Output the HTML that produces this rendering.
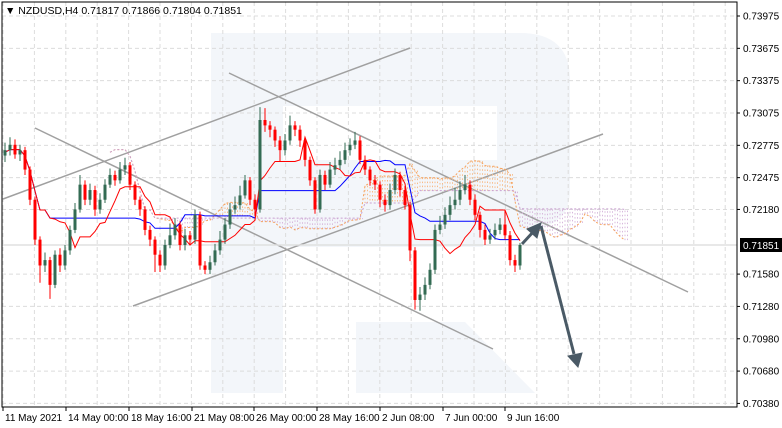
<!DOCTYPE html>
<html><head><meta charset="utf-8"><style>
body{margin:0;background:#fff;}
svg{display:block;font-family:"Liberation Sans",sans-serif;}
</style></head><body>
<svg id="chart" width="782" height="428" viewBox="0 0 782 428" xmlns="http://www.w3.org/2000/svg">
<rect x="0" y="0" width="782" height="428" fill="#fff"/>
<g id="watermark" fill="#f3f6fa">
<rect x="211" y="33" width="72" height="360"/>
<path d="M283 33 H520 Q570 33 570 80 V190 Q570 230 520 230 H283 V160 H497 V106 H283 Z"/>
<rect x="283" y="200" width="200" height="47"/>
<path d="M356 322 H465 L535 393 H356 Z"/>
</g>
<g id="grid"></g>
<g id="lines">
<line x1="3" y1="199" x2="410" y2="48" stroke="#a0a0a0" stroke-width="1.5"/>
<line x1="133" y1="306" x2="603" y2="134" stroke="#a0a0a0" stroke-width="1.5"/>
<line x1="35" y1="128" x2="493" y2="349" stroke="#a0a0a0" stroke-width="1.5"/>
<line x1="229" y1="73" x2="688" y2="292" stroke="#a0a0a0" stroke-width="1.5"/>
</g>
<line x1="2" y1="245" x2="737" y2="245" stroke="#e0e0e0" stroke-width="1.5"/>
<g id="cloud"></g>
<g id="ind"></g>
<g id="candles"></g>
<g stroke="#4a5a66" fill="#4a5a66" stroke-width="3">
<line x1="522" y1="244" x2="534" y2="231"/>
<polygon points="541,223 537,238 527,229" stroke-width="1"/>
<line x1="541" y1="226" x2="574" y2="354"/>
<polygon points="578,367 568,356 582,353" stroke-width="1"/>
</g>
<rect x="2" y="2" width="735" height="405" fill="none" stroke="#000" stroke-width="1"/>
<g id="yaxis" font-size="10" fill="#000"></g>
<g id="xaxis" font-size="10" fill="#000"></g>
<rect x="740" y="238" width="42" height="14" fill="#000"/>
<text x="743" y="249" font-size="10" fill="#fff">0.71851</text>
<text x="5" y="14" font-size="10.5" fill="#000">▼ NZDUSD,H4  0.71817 0.71866 0.71804 0.71851</text>
</svg>
<script>
const yTicks=[0.73975,0.73675,0.73375,0.73075,0.72775,0.72475,0.72180,0.71580,0.71280,0.70980,0.70680,0.70380];
const yTickLabels=["0.73975","0.73675","0.73375","0.73075","0.72775","0.72475","0.72180","0.71580","0.71280","0.70980","0.70680","0.70380"];
const xLabels=["11 May 2021","14 May 00:00","18 May 16:00","21 May 08:00","26 May 00:00","28 May 16:00","2 Jun 08:00","7 Jun 00:00","9 Jun 16:00"];
const xLabelBars=[0,12.6,25.2,37.8,50.2,62.8,75.4,88,100.4];
const firstOpen=0.7268;
const closes=[0.7273,0.7278,0.7269,0.7273,0.7255,0.7227,0.7190,0.7166,0.7171,0.7148,0.7176,0.7166,0.7180,0.7199,0.7218,0.7241,0.7227,0.7236,0.7218,0.7227,0.7241,0.7250,0.7245,0.7255,0.7259,0.7241,0.7227,0.7218,0.7199,0.7190,0.7176,0.7166,0.7185,0.7194,0.7204,0.7185,0.7194,0.7190,0.7213,0.7166,0.7162,0.7169,0.7180,0.7190,0.7204,0.7218,0.7222,0.7231,0.7245,0.7227,0.7218,0.7301,0.7296,0.7292,0.7282,0.7273,0.7282,0.7296,0.7292,0.7282,0.7264,0.7245,0.7218,0.7250,0.7241,0.7255,0.7259,0.7264,0.7273,0.7278,0.7282,0.7264,0.7255,0.7245,0.7241,0.7227,0.7222,0.7236,0.7250,0.7236,0.7222,0.7180,0.7134,0.7139,0.7148,0.7162,0.7199,0.7204,0.7213,0.7222,0.7227,0.7236,0.7241,0.7227,0.7213,0.7199,0.7190,0.7194,0.7199,0.7204,0.7194,0.7171,0.7166,0.7185];
const highs=[0.7280,0.7285,0.7283,0.7278,0.7276,0.7258,0.7230,0.7193,0.7178,0.7174,0.7180,0.7182,0.7185,0.7203,0.7224,0.7250,0.7245,0.7242,0.7240,0.7233,0.7246,0.7256,0.7254,0.7262,0.7266,0.7262,0.7244,0.7230,0.7221,0.7203,0.7193,0.7180,0.7190,0.7205,0.7210,0.7207,0.7200,0.7198,0.7218,0.7216,0.7170,0.7175,0.7186,0.7198,0.7210,0.7224,0.7230,0.7240,0.7250,0.7248,0.7232,0.7313,0.7312,0.7300,0.7295,0.7286,0.7288,0.7305,0.7300,0.7296,0.7285,0.7267,0.7248,0.7255,0.7254,0.7262,0.7266,0.7272,0.7280,0.7284,0.7290,0.7286,0.7268,0.7258,0.7250,0.7244,0.7232,0.7242,0.7256,0.7253,0.7240,0.7225,0.7183,0.7146,0.7155,0.7168,0.7204,0.7212,0.7220,0.7230,0.7238,0.7244,0.7250,0.7245,0.7232,0.7216,0.7204,0.7200,0.7205,0.7210,0.7218,0.7198,0.7176,0.7187];
const lows=[0.7262,0.7268,0.7265,0.7263,0.7250,0.7222,0.7185,0.7150,0.7160,0.7135,0.7145,0.7160,0.7162,0.7176,0.7196,0.7215,0.7222,0.7222,0.7212,0.7214,0.7224,0.7238,0.7240,0.7242,0.7250,0.7236,0.7222,0.7212,0.7194,0.7184,0.7160,0.7160,0.7162,0.7182,0.7190,0.7180,0.7180,0.7185,0.7186,0.7162,0.7158,0.7158,0.7166,0.7176,0.7186,0.7200,0.7214,0.7218,0.7228,0.7222,0.7212,0.7215,0.7290,0.7285,0.7276,0.7262,0.7268,0.7278,0.7286,0.7276,0.7258,0.7240,0.7214,0.7215,0.7236,0.7238,0.7250,0.7255,0.7260,0.7268,0.7274,0.7260,0.7250,0.7240,0.7236,0.7220,0.7216,0.7218,0.7232,0.7230,0.7218,0.7170,0.7125,0.7124,0.7134,0.7144,0.7158,0.7195,0.7200,0.7208,0.7218,0.7222,0.7232,0.7222,0.7208,0.7192,0.7185,0.7186,0.7190,0.7195,0.7190,0.7166,0.7160,0.7162];
const tenkanPeriod=9, kijunPeriod=26, spanBPeriod=52, shift=21;

const NS="http://www.w3.org/2000/svg";
function yS(p){return 16+(0.73975-p)/0.003*32.33;}
function xS(i){return 5+5*i;}
function mk(tag,attrs,parent){const e=document.createElementNS(NS,tag);for(const k in attrs)e.setAttribute(k,attrs[k]);parent.appendChild(e);return e;}

const grid=document.getElementById('grid');
for(let k=0;k<24;k++){const x=3+31.4*k;if(x>736)break;
 const l=mk('line',{x1:x,y1:2,x2:x,y2:407,stroke:'#dcdcdc','stroke-dasharray':'4,3'},grid);
 
 }
const yax=document.getElementById('yaxis');
yTicks.forEach((t,i)=>{const y=yS(t);
 const l=mk('line',{x1:2,y1:y,x2:737,y2:y,stroke:'#dcdcdc','stroke-dasharray':'4,3'},grid);
 
 
 const tk=mk('line',{x1:737,y1:y,x2:740,y2:y,stroke:'#000'},yax);
 
 
 const tx=mk('text',{x:743,y:y+3.5},yax);tx.textContent=yTickLabels[i];
 
 });
const xax=document.getElementById('xaxis');
xLabels.forEach((s,i)=>{const x=xS(xLabelBars[i])-2;
 const tk=mk('line',{x1:x,y1:407,x2:x,y2:411,stroke:'#000'},xax);
 
 
 const tx=mk('text',{x:x+2,y:421},xax);tx.textContent=s;
 
 });

const n=closes.length;
function mid(i,p){let h=-1,l=9;for(let j=Math.max(0,i-p+1);j<=i;j++){h=Math.max(h,highs[j]);l=Math.min(l,lows[j]);}return (h+l)/2;}
const ten=[],kij=[],sa=[],sb=[];
for(let i=0;i<n;i++){ten.push(mid(i,tenkanPeriod));kij.push(mid(i,kijunPeriod));sa.push((ten[i]+kij[i])/2);sb.push(mid(i,spanBPeriod));}
const cloud=document.getElementById('cloud');
for(let i=0;i<n;i++){const x=xS(i+shift);
 for(const dx of [0,2.5]){
 const c=mk('line',{x1:x+dx,y1:yS(sa[i]),x2:x+dx,y2:yS(sb[i]),stroke:sa[i]>=sb[i]?'#f8bb88':'#d8b8dd','stroke-width':1,'stroke-dasharray':'1.5,2.5'},cloud);
 
 }}
function pl(arr,off,col,dash,parent,name){let d='';arr.forEach((v,i)=>{d+=(i?'L':'M')+xS(i+off)+' '+yS(v).toFixed(1);});
 const p=mk('path',{d:d,fill:'none',stroke:col,'stroke-width':1},parent);if(dash)p.setAttribute('stroke-dasharray',dash);
 
 }
pl(sa,shift,'#f5a25d','2,2',cloud,'senkou-span-a');
pl(sb,shift,'#c9a0d0','2,2',cloud,'senkou-span-b');
const ind=document.getElementById('ind');
pl(kij,0,'#0000ff',null,ind,'kijun-sen');
pl(ten,0,'#ff0000',null,ind,'tenkan-sen');

const cg=document.getElementById('candles');
for(let i=0;i<n;i++){const o=i?closes[i-1]:firstOpen,c=closes[i];const x=xS(i);const bull=c>=o;const col=bull?'#336b53':'#ff0000';
 const w=mk('line',{x1:x,y1:yS(highs[i]),x2:x,y2:yS(lows[i]),stroke:col,'stroke-width':1},cg);
 
 
 const t=Math.min(yS(o),yS(c)),h=Math.max(1,Math.abs(yS(o)-yS(c)));
 const b=mk('rect',{x:x-1.5,y:t,width:3,height:h,fill:col},cg);
 
 }
</script>
</body></html>
